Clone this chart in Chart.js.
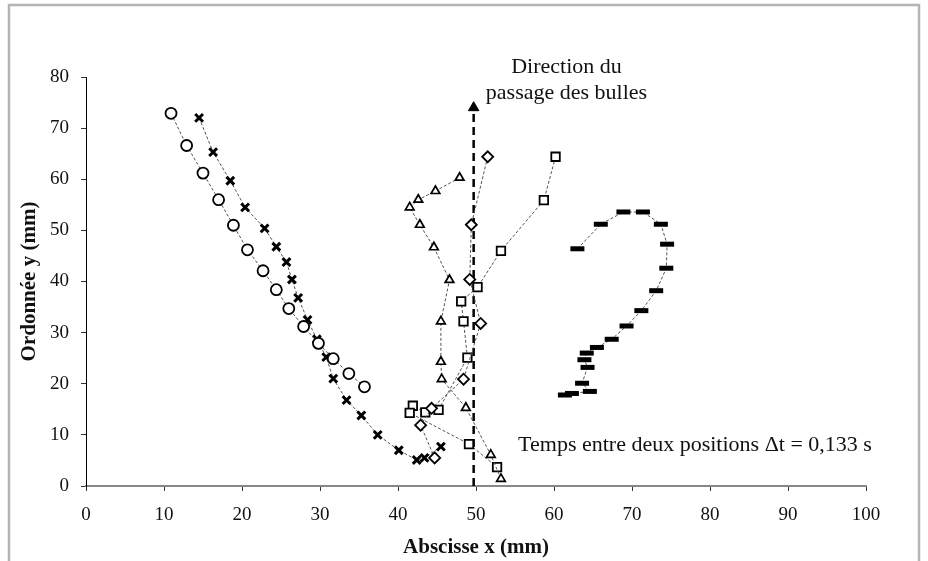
<!DOCTYPE html>
<html>
<head>
<meta charset="utf-8">
<script src="https://cdn.jsdelivr.net/npm/chart.js@4"></script>
<style>
  body { margin: 0; background: #fff; }
  canvas { display: block; }
</style>
</head>
<body>
<canvas id="myChart" width="928" height="561"></canvas>
<script>
// bubble trajectories, positions in mm
const circles = [[10.9,72.9],[12.9,66.6],[15.0,61.2],[17.0,56.0],[18.9,51.0],[20.7,46.2],[22.7,42.1],
  [24.4,38.4],[26.0,34.7],[27.9,31.2],[29.8,27.9],[31.7,24.9],[33.7,22.0],[35.7,19.4]];
const crosses = [[14.5,72.0],[16.3,65.3],[18.5,59.7],[20.4,54.5],[22.9,50.4],[24.4,46.8],[25.7,43.8],
  [26.4,40.4],[27.2,36.8],[28.4,32.5],[29.6,28.7],[30.8,25.2],[31.7,21.0],[33.4,16.8],[35.3,13.8],
  [37.4,10.0],[40.1,7.0],[42.4,5.1],[43.4,5.5],[45.5,7.7]];
const triangles = [[47.9,60.3],[44.8,57.7],[42.6,56.0],[41.5,54.5],[42.8,51.1],[44.6,46.7],[46.6,40.3],
  [45.5,32.2],[45.5,24.3],[45.6,20.9],[48.7,15.3],[51.9,6.1],[53.2,1.4]];
const diamonds = [[51.5,64.4],[49.4,51.1],[49.2,40.4],[50.6,31.8],[48.4,20.9],[44.3,15.2],[42.9,11.9],[44.7,5.5]];
const squares = [[60.2,64.4],[58.7,55.9],[53.2,46.0],[50.2,38.9],[48.1,36.1],[48.4,32.2],[48.9,25.1],
  [45.2,14.9],[43.5,14.4],[41.9,15.7],[41.5,14.3],[49.1,8.2],[52.7,3.7]];
const bars = [[63.0,46.4],[66.0,51.2],[68.9,53.6],[71.4,53.6],[73.7,51.2],[74.5,47.3],[74.4,42.6],
  [73.1,38.2],[71.2,34.3],[69.3,31.3],[67.4,28.7],[65.5,27.1],[64.2,26.0],[63.9,24.7],[64.3,23.2],
  [63.6,20.1],[64.6,18.5],[62.3,18.1],[61.4,17.8]];
// rising direction arrow
const arrow = [[49.7,0],[49.7,74]];

const xTicks = [0,10,20,30,40,50,60,70,80,90,100];
const yTicks = [0,10,20,30,40,50,60,70,80];

const serif = "'Liberation Serif', 'Times New Roman', serif";

function pts(list) {
  return list.map(p => ({x: p[0], y: p[1]}));
}

function track(list, style, radius, width) {
  return {
    data: pts(list),
    showLine: true,
    borderColor: '#555',
    borderWidth: 1,
    borderDash: [3, 2],
    pointStyle: style,
    pointRadius: radius,
    pointBorderColor: '#000',
    pointBackgroundColor: '#fff',
    pointBorderWidth: width,
    clip: 12
  };
}

const frameAndNotes = {
  id: 'frameAndNotes',
  beforeDraw(chart) {
    const c = chart.ctx;
    c.save();
    c.fillStyle = '#fff';
    c.fillRect(0, 0, chart.width, chart.height);
    c.strokeStyle = '#b4b4b4';
    c.lineWidth = 2.5;
    c.strokeRect(9, 5, 910, 600);
    c.restore();
  },
  afterDraw(chart) {
    const c = chart.ctx;
    const sx = chart.scales.x, sy = chart.scales.y;
    c.save();
    c.fillStyle = '#111';
    c.font = '22px ' + serif;
    c.textBaseline = 'middle';
    c.textAlign = 'center';
    c.fillText('Direction du', sx.getPixelForValue(61.6), sy.getPixelForValue(82));
    c.fillText('passage des bulles', sx.getPixelForValue(61.6), sy.getPixelForValue(76.9));
    c.textAlign = 'left';
    c.fillText('Temps entre deux positions \u0394t = 0,133 s', sx.getPixelForValue(55.4), sy.getPixelForValue(8.0));
    c.restore();
  }
};

const ctx = document.getElementById('myChart');
const myChart = new Chart(ctx, {
  type: 'scatter',
  data: {
    datasets: [
      track(circles, 'circle', 5.5, 1.8),
      track(crosses, 'crossRot', 5.5, 3),
      track(triangles, 'triangle', 5, 1.7),
      track(diamonds, 'rectRot', 5.5, 1.8),
      track(squares, 'rect', 6, 1.8),
      Object.assign(track(bars, 'line', 7, 5), {pointBackgroundColor: '#000'}),
      {
        data: pts(arrow),
        showLine: true,
        borderColor: '#000',
        borderWidth: 2.5,
        borderDash: [8, 5],
        pointStyle: 'triangle',
        pointRadius: [0, 6],
        pointBackgroundColor: '#000',
        pointBorderColor: '#000',
        pointBorderWidth: 1,
        clip: 12
      }
    ]
  },
  options: {
    responsive: false,
    animation: false,
    layout: { padding: { left: 10, top: 77, right: 62, bottom: 0 } },
    plugins: {
      legend: { display: false },
      tooltip: { enabled: false }
    },
    scales: {
      x: {
        type: 'linear',
        min: 0,
        max: 100,
        afterBuildTicks: s => { s.ticks = xTicks.map(v => ({value: v})); },
        afterFit: s => { s.height = 75; },
        grid: { drawOnChartArea: false, drawTicks: true, tickLength: 5, color: '#333' },
        border: { display: true, color: '#888', width: 2 },
        ticks: { color: '#111', padding: 13, font: { family: serif, size: 19 } },
        title: {
          display: true,
          text: 'Abscisse x (mm)',
          color: '#111',
          padding: { top: 0, bottom: 1 },
          font: { family: serif, size: 21, weight: 'bold' }
        }
      },
      y: {
        type: 'linear',
        min: 0,
        max: 80,
        afterBuildTicks: s => { s.ticks = yTicks.map(v => ({value: v})); },
        afterFit: s => { s.width = 76; },
        grid: { drawOnChartArea: false, drawTicks: true, tickLength: 5, color: '#333' },
        border: { display: true, color: '#000', width: 1 },
        ticks: { color: '#111', padding: 12, font: { family: serif, size: 19 } },
        title: {
          display: true,
          text: 'Ordonnée y (mm)',
          color: '#111',
          padding: { top: 7, bottom: 0 },
          font: { family: serif, size: 21, weight: 'bold' }
        }
      }
    }
  },
  plugins: [frameAndNotes]
});
</script>
</body>
</html>
